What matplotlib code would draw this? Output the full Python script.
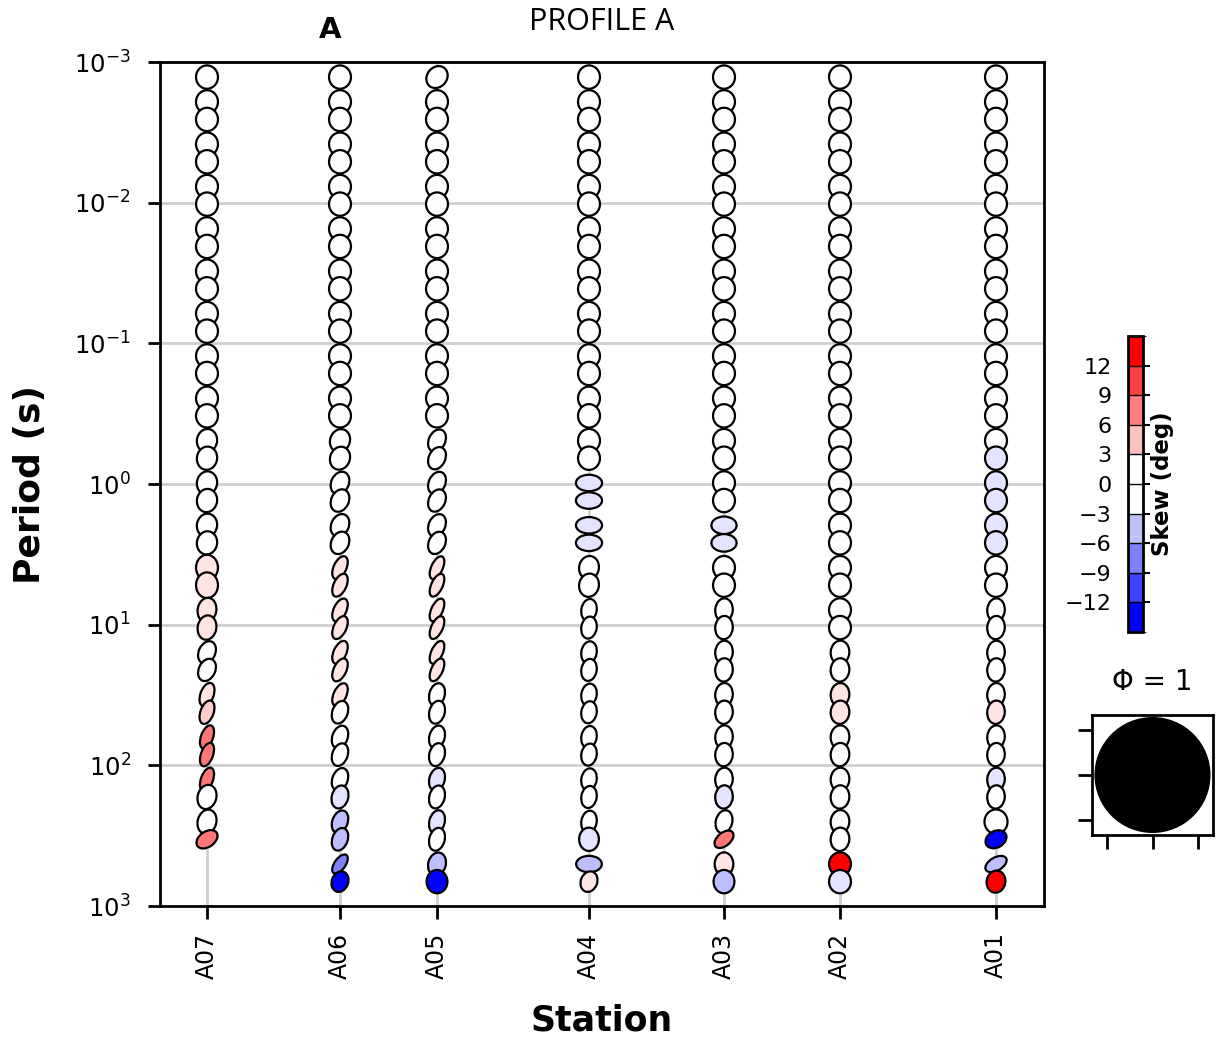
import numpy as np
import matplotlib
matplotlib.use('Agg')
import matplotlib.pyplot as plt
import matplotlib as mpl
from matplotlib.patches import Ellipse, Circle
from matplotlib.colors import LinearSegmentedColormap, ListedColormap, BoundaryNorm, Normalize

nan = np.nan

# periods (s) of the phase tensor estimates
periods = [0.00128, 0.00192, 0.00256, 0.00384, 0.00512, 0.00768, 0.01024, 0.01536,
           0.02048, 0.03072, 0.04096, 0.06144, 0.08192, 0.1229, 0.1638, 0.2458,
           0.3277, 0.4915, 0.6554, 0.9830, 1.311, 1.966, 2.621, 3.932, 5.243,
           7.864, 10.49, 15.73, 20.97, 31.46, 41.94, 62.91, 83.89, 125.8, 167.8,
           251.7, 335.5, 503.3, 671.1]

stations = ['A07', 'A06', 'A05', 'A04', 'A03', 'A02', 'A01']
station_km = [0.0, 13.3, 23.0, 38.2, 51.7, 63.3, 78.9]

# skew (deg), normalised phimax / phimin and azimuth (deg) per station
skew_a07 = [0]*23 + [1.6]*4 + [0]*2 + [1.6, 3.0] + [8]*3 + [0]*2 + [8] + [nan]*2
pmax_a07 = [1]*23 + [1.1, 1.1, 1.05, 1.05] + [1.0, 1.0] + [1.05]*7 + [1.0] + [nan]*2
pmin_a07 = [1]*17 + [0.92]*6 + [1.0, 1.0, 0.85, 0.85] + [0.75, 0.75] + [0.6, 0.6, 0.55, 0.55, 0.55] + [0.85, 0.85] + [0.7] + [nan]*2
azim_a07 = [0]*17 + [10]*6 + [0, 0, 10, 10] + [25, 25] + [20]*5 + [15, 15] + [55] + [nan]*2

skew_a06 = [0]*23 + [1.6]*7 + [0]*4 + [-1.6] + [-3.8, -3.8] + [-7.5] + [-15]
pmax_a06 = [1]*17 + [1.0]*6 + [1.05]*7 + [1.0]*4 + [1.0] + [1.0, 1.0] + [0.95] + [0.9]
pmin_a06 = [1]*17 + [0.9, 0.9] + [0.8]*4 + [0.58]*7 + [0.7]*4 + [0.75] + [0.7, 0.7] + [0.5] + [0.75]
azim_a06 = [0]*17 + [20, 20] + [25]*4 + [25]*7 + [20]*4 + [15] + [20, 20] + [35] + [20]

skew_a05 = [0]*23 + [1.6]*6 + [0]*4 + [-1.6, 0, -1.6, 0] + [-3.8, -15]
pmax_a05 = [1]*17 + [1.0]*6 + [1.05]*6 + [1.0]*8 + [1.0, 1.0]
pmin_a05 = [0.9] + [1]*16 + [0.75]*6 + [0.52]*6 + [0.7]*8 + [0.8, 0.95]
azim_a05 = [40] + [0]*16 + [25]*6 + [25]*6 + [15]*8 + [15, 0]

skew_a04 = [0]*19 + [-1.6]*4 + [0]*13 + [-1.6, -3.8, 1.6]
pmax_a04 = [1]*19 + [1.12]*4 + [1.0, 1.0] + [0.95]*11 + [1.0, 1.1, 0.9]
pmin_a04 = [1]*19 + [0.75]*4 + [0.9, 0.9] + [0.7]*11 + [0.9, 0.75, 0.75]
azim_a04 = [0]*19 + [90]*4 + [10, 10] + [10]*11 + [0, 90, 20]

skew_a03 = [0]*21 + [-1.6, -1.6] + [0]*11 + [-1.6, 0, 8, 1.6, -3.8]
pmax_a03 = [1]*21 + [1.08, 1.08] + [1]*2 + [1.0]*10 + [1.0, 0.95, 1.0, 1.0]
pmin_a03 = [1]*21 + [0.8, 0.8] + [1]*2 + [0.8]*10 + [0.75, 0.6, 0.85, 0.95]
azim_a03 = [0]*21 + [90, 90] + [0]*2 + [5]*10 + [15, 50, 0, 0]

skew_a02 = [0]*29 + [1.6, 1.6] + [0]*6 + [15, -1.6]
pmax_a02 = [1]*39
pmin_a02 = [1]*27 + [0.85]*10 + [1, 1]
azim_a02 = [0]*27 + [5]*10 + [0, 0]

skew_a01 = [0]*18 + [-1.6]*5 + [0]*7 + [1.6, 0, 0, -1.6, 0, 0, -15, -3.8, 15]
pmax_a01 = [1]*35 + [1.05, 0.95, 1.0, 0.95]
pmin_a01 = [1]*25 + [0.8]*10 + [1.05, 0.75, 0.6, 0.85]
azim_a01 = [0]*25 + [5]*10 + [0, 60, 60, 10]

skew_all = [skew_a07, skew_a06, skew_a05, skew_a04, skew_a03, skew_a02, skew_a01]
pmax_all = [pmax_a07, pmax_a06, pmax_a05, pmax_a04, pmax_a03, pmax_a02, pmax_a01]
pmin_all = [pmin_a07, pmin_a06, pmin_a05, pmin_a04, pmin_a03, pmin_a02, pmin_a01]
azim_all = [azim_a07, azim_a06, azim_a05, azim_a04, azim_a03, azim_a02, azim_a01]

skew_bounds = [-15, -12, -9, -6, -3, 0, 3, 6, 9, 12, 15]
skew_ticks = [-12, -9, -6, -3, 0, 3, 6, 9, 12]

ELL_W = 0.156       # ellipse size in decades (horizontal)
ELL_H = 0.166       # slightly taller, like the original
KM_PER_UNIT = 14.067
XMIN, XMAX = -4.7, 83.7

fig = plt.figure(figsize=(12.16, 10.43), dpi=100)
ax = fig.add_axes([160/1216, 1 - 906/1043, 884/1216, 844/1043])

ell_cmap = LinearSegmentedColormap.from_list('bwr_mt', [(0, 0, 1), (1, 1, 1), (1, 0, 0)])
ell_norm = Normalize(-15, 15)

logp = np.log10(periods)
for s in range(len(stations)):
    x = station_km[s] / KM_PER_UNIT
    for j in range(len(periods)):
        sk = skew_all[s][j]
        if np.isnan(sk):
            continue
        e = Ellipse((x, logp[j]), width=pmin_all[s][j]*ELL_W, height=pmax_all[s][j]*ELL_H,
                    angle=azim_all[s][j], facecolor=ell_cmap(ell_norm(sk)),
                    edgecolor='k', lw=1.6, zorder=3)
        ax.add_patch(e)

ax.set_xlim(XMIN / KM_PER_UNIT, XMAX / KM_PER_UNIT)
ax.set_ylim(3, -3)
ax.set_yticks(range(-3, 4))
ax.set_yticklabels(['$10^{%d}$' % v for v in range(-3, 4)], fontsize=17.5)
ax.set_xticks([k / KM_PER_UNIT for k in station_km])
ax.set_xticklabels(stations, rotation=90, fontsize=17)
ax.tick_params(length=9, width=2)
ax.tick_params(axis='y', pad=12)
ax.tick_params(axis='x', pad=10)
ax.grid(True, color='#cfcfcf', lw=2)
ax.set_axisbelow(True)
for sp in ax.spines.values():
    sp.set_linewidth(2)

ax.set_ylabel('Period (s)', fontsize=26, fontweight='bold')
ax.yaxis.set_label_coords(-0.128, 0.5)
ax.set_xlabel('Station', fontsize=25, fontweight='bold')
ax.xaxis.set_label_coords(0.5, -0.116)

fig.text(602/1216, 1 - 22/1043, 'PROFILE A', fontsize=22, family='Open Sans',
         ha='center', va='center')
fig.text(330/1216, 1 - 30/1043, 'A', fontsize=21, fontweight='bold',
         ha='center', va='center')

# skew colorbar
cax = fig.add_axes([1128/1216, 1 - 632/1043, 15/1216, 296/1043])
bar_colors = ['#0000ff', '#4040ff', '#8080ff', '#c0c0ff', '#ffffff',
              '#ffffff', '#ffc0c0', '#ff8080', '#ff4040', '#ff0000']
cb = mpl.colorbar.ColorbarBase(cax, cmap=ListedColormap(bar_colors),
                               norm=BoundaryNorm(skew_bounds, 10),
                               ticks=skew_ticks, drawedges=True)
cb.outline.set_linewidth(2)
cb.dividers.set_linewidth(1)
cax.tick_params(axis='y', left=False, right=True, labelleft=True, labelright=False,
                length=5, width=1.5, labelsize=16, pad=7)
cax.yaxis.set_label_position('right')
cb.set_label('Skew (deg)', fontsize=16.5, fontweight='bold', labelpad=0)

# phase tensor size legend
lax = fig.add_axes([1092/1216, 1 - 835/1043, 121/1216, 120/1043])
lax.add_patch(Circle((0, 0), 1.27, color='k'))
lax.set_xlim(-1.34, 1.34)
lax.set_ylim(-1.33, 1.33)
lax.set_xticks([-1, 0, 1])
lax.set_yticks([-1, 0, 1])
lax.set_xticklabels([])
lax.set_yticklabels([])
lax.tick_params(length=10, width=2)
for sp in lax.spines.values():
    sp.set_linewidth(2)
lax.set_title('\u03a6 = 1', fontsize=20, pad=18)

fig.savefig('out.png', dpi=100)
